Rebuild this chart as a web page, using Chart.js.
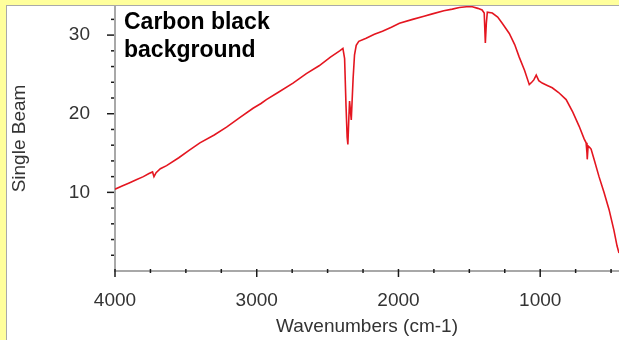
<!DOCTYPE html>
<html>
<head>
<meta charset="utf-8">
<script src="https://cdn.jsdelivr.net/npm/chart.js@4.4.1/dist/chart.umd.min.js"></script>
<style>
	html, body { margin: 0; padding: 0; }
	body { width: 619px; height: 340px; background: #ffff9c; position: relative; overflow: hidden; }
	#panel { position: absolute; left: 6px; top: 5px; right: 0; bottom: 0; background: #fff; border-left: 1px solid #a9a9a9; border-top: 1px solid #a9a9a9; }
	#chart { position: absolute; left: 0; top: 0; }
</style>
</head>
<body>
<div id="panel"></div>
<canvas id="chart" width="619" height="340"></canvas>
<script>
	// spectrum (wavenumber, single beam)
	var wavenumbers = [4000, 3950, 3900, 3850, 3800, 3760, 3735, 3725, 3710, 3680, 3636, 3550, 3480, 3401, 3300, 3213, 3120, 3026, 2970, 2932,
		2850, 2744, 2650, 2560, 2480, 2415, 2392, 2380, 2370, 2362, 2357, 2350, 2345, 2338, 2333, 2320, 2310, 2298, 2280, 2228,
		2170, 2113, 2050, 1993, 1900, 1820, 1761, 1680, 1620, 1570, 1520, 1479, 1440, 1410, 1395, 1387, 1380, 1373, 1338, 1300,
		1268, 1218, 1180, 1148, 1110, 1077, 1060, 1045, 1028, 1010, 986, 950, 915, 870, 817, 770, 725, 690, 676, 670,
		668, 662, 650, 641, 620, 585, 550, 514, 480, 458, 444];
	var singleBeam = [10.4, 10.8, 11.2, 11.6, 12.0, 12.4, 12.6, 12.0, 12.5, 13.0, 13.4, 14.4, 15.3, 16.3, 17.3, 18.3, 19.5, 20.7, 21.3, 21.8,
		22.7, 23.9, 25.1, 26.1, 27.2, 28.0, 28.3, 27.0, 21.0, 17.0, 16.1, 19.5, 21.6, 20.2, 19.2, 24.5, 27.5, 28.7, 29.2, 29.6,
		30.1, 30.5, 31.0, 31.5, 32.0, 32.4, 32.7, 33.1, 33.3, 33.5, 33.6, 33.6, 33.4, 33.2, 32.8, 29.0, 31.5, 32.9, 32.8, 32.3,
		31.5, 30.2, 28.8, 27.2, 25.5, 23.7, 24.0, 24.3, 24.9, 24.2, 23.9, 23.6, 23.3, 22.7, 21.8, 20.2, 18.4, 16.8, 16.3, 15.0,
		14.2, 15.9, 15.7, 15.5, 14.2, 12.0, 10.0, 7.8, 5.2, 3.2, 2.3];
	var xLabels = [4000, 3000, 2000, 1000];
	var xMinorTicks = [3750, 3500, 3250, 2750, 2500, 2250, 1750, 1500, 1250, 750, 500];
	var yLabels = [10, 20, 30];
	var yMinorTicks = [2, 4, 6, 8, 12, 14, 16, 18, 22, 24, 26, 28, 32];
	var noteLines = ['Carbon black', 'background'];

	var points = [];
	for (var i = 0; i < wavenumbers.length; i++) {
		points.push({ x: wavenumbers[i], y: singleBeam[i] });
	}

	var labelFont = { family: 'Liberation Sans, Arial, sans-serif', size: 19 };

	function setTicks(major, minor) {
		return function (scale) {
			scale.ticks = major.concat(minor).sort(function (a, b) { return a - b; })
				.map(function (v) { return { value: v }; });
		};
	}

	function noPadding(scale) {
		scale.paddingTop = 0;
		scale.paddingBottom = 0;
		scale.paddingLeft = 0;
		scale.paddingRight = 0;
	}

	// tick marks: long ones at labelled values, short ones between
	var tickMarks = {
		id: 'tickMarks',
		afterDraw: function (chart) {
			var ctx = chart.ctx;
			var xs = chart.scales.x, ys = chart.scales.y;
			var axisY = chart.chartArea.bottom, axisX = chart.chartArea.left;
			ctx.save();
			ctx.strokeStyle = '#1a1a1a';
			ctx.lineWidth = 1.5;
			xs.ticks.forEach(function (t) {
				var px = xs.getPixelForValue(t.value);
				var major = xLabels.indexOf(t.value) >= 0;
				ctx.beginPath();
				ctx.moveTo(px, axisY - 2);
				ctx.lineTo(px, axisY + (major ? 6 : 2));
				ctx.stroke();
			});
			ys.ticks.forEach(function (t) {
				var py = ys.getPixelForValue(t.value);
				var major = yLabels.indexOf(t.value) >= 0;
				ctx.beginPath();
				ctx.moveTo(axisX - (major ? 8 : 4), py);
				ctx.lineTo(axisX - 1, py);
				ctx.stroke();
			});
			// note in the top left corner
			ctx.fillStyle = '#000';
			ctx.font = 'bold 23px Liberation Sans, Arial, sans-serif';
			ctx.textBaseline = 'alphabetic';
			ctx.fillText(noteLines[0], axisX + 9, 29);
			ctx.fillText(noteLines[1], axisX + 9, 57);
			ctx.restore();
		}
	};

	new Chart(document.getElementById('chart'), {
		type: 'line',
		data: {
			datasets: [{
				data: points,
				borderColor: 'rgb(228, 22, 32)',
				borderWidth: 1.6,
				pointRadius: 0,
				tension: 0,
				fill: false
			}]
		},
		options: {
			responsive: false,
			animation: false,
			events: [],
			layout: { padding: { top: 6, left: 0, right: 0, bottom: 0 } },
			plugins: { legend: { display: false }, tooltip: { enabled: false } },
			scales: {
				x: {
					type: 'linear',
					reverse: true,
					min: 444,
					max: 4000,
					grid: { display: false },
					border: { color: '#a8a8a8', width: 2 },
					afterBuildTicks: setTicks(xLabels, xMinorTicks),
					ticks: {
						autoSkip: false,
						maxRotation: 0,
						padding: 10,
						color: '#333',
						font: labelFont,
						callback: function (v) { return xLabels.indexOf(v) >= 0 ? String(v) : ''; }
					},
					title: { display: true, text: 'Wavenumbers (cm-1)', color: '#333', font: labelFont, padding: { top: 0, bottom: 2 } },
					afterFit: function (scale) { scale.height = 69; noPadding(scale); }
				},
				y: {
					type: 'linear',
					min: 0,
					max: 33.7,
					grid: { display: false },
					border: { color: '#a8a8a8', width: 2 },
					afterBuildTicks: setTicks(yLabels, yMinorTicks),
					ticks: {
						autoSkip: false,
						padding: 17,
						color: '#333',
						font: labelFont,
						callback: function (v) { return yLabels.indexOf(v) >= 0 ? String(v) : ''; }
					},
					title: { display: true, text: 'Single Beam', color: '#333', font: labelFont, padding: { top: 8, bottom: 0 } },
					afterFit: function (scale) { scale.width = 115; noPadding(scale); }
				}
			}
		},
		plugins: [tickMarks]
	});
</script>
</body>
</html>
